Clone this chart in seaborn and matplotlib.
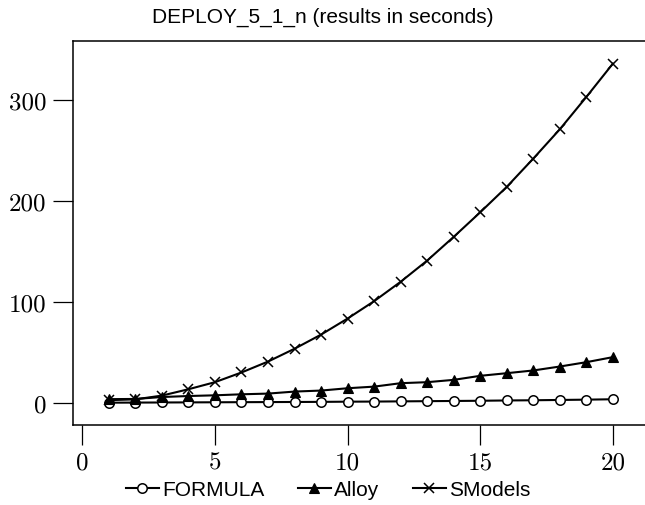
import matplotlib
matplotlib.use("Agg")
import matplotlib.pyplot as plt
import seaborn as sns
import pandas as pd

n_values = list(range(1, 21))

formula_times = [0.3, 0.4, 0.5, 0.6, 0.7, 0.8, 0.9, 1.0, 1.1, 1.3,
                 1.4, 1.6, 1.8, 2.0, 2.2, 2.5, 2.7, 3.0, 3.3, 3.7]
alloy_times = [3.8, 4.0, 5.9, 6.9, 7.6, 8.6, 9.3, 11.3, 12.3, 14.6,
               16.2, 19.6, 20.6, 22.9, 26.9, 29.5, 32.2, 36.1, 40.4, 45.4]
smodels_times = [2.8, 3.6, 7.3, 13.6, 20.6, 30.2, 41.0, 53.7, 67.7, 83.6,
                 100.8, 120.0, 141.0, 164.5, 188.8, 214.0, 242.0, 271.0, 303.0, 336.0]

series_names = ["FORMULA", "Alloy", "SModels"]
x_ticks = [0, 5, 10, 15, 20]
y_ticks = [0, 100, 200, 300]

fig = plt.figure(figsize=(6.45, 5.06), dpi=100)

# axes box: left edge at 73 px, right edge runs off the figure
x_lo, x_hi = -0.35, 21.22
ax = fig.add_axes([
    73 / 645,
    (506 - 425.5) / 506,
    (x_hi - x_lo) * 26.53 / 645,
    (425.5 - 42.3) / 506
])

df = pd.DataFrame({
    "n": n_values * 3,
    "time": formula_times + alloy_times + smodels_times,
    "tool": [s for s in series_names for _ in n_values]
})

styles = {
    "FORMULA": dict(marker="o", markersize=6.8, markerfacecolor="white",
                    markeredgecolor="black", markeredgewidth=1.1),
    "Alloy": dict(marker="^", markersize=7.5, markerfacecolor="black",
                  markeredgecolor="black", markeredgewidth=0.8),
    "SModels": dict(marker="x", markersize=7.5, markeredgecolor="black",
                    markeredgewidth=1.1),
}

for name in series_names:
    sns.lineplot(
        data=df[df["tool"] == name],
        x="n",
        y="time",
        color="black",
        linewidth=1.5,
        errorbar=None,
        label=name,
        ax=ax,
        **styles[name]
    )

if ax.get_legend() is not None:
    ax.get_legend().remove()

ax.set_xlim(x_lo, x_hi)
ax.set_ylim(-21.3, 358.1)
ax.set_xlabel("")
ax.set_ylabel("")

ax.set_xticks(x_ticks)
ax.set_yticks(y_ticks)
ax.set_xticklabels([str(t) for t in x_ticks], fontfamily="cmr10", fontsize=18)
ax.set_yticklabels([str(t) for t in y_ticks], fontfamily="cmr10", fontsize=18)
ax.tick_params(axis="both", direction="out", length=14.4, width=0.9,
               color="black", pad=5)

for spine in ax.spines.values():
    spine.set_linewidth(1.1)
    spine.set_color("black")
ax.spines["right"].set_visible(False)

fig.text(
    0.5, 1 - 17 / 506,
    "DEPLOY_5_1_n (results in seconds)",
    ha="center", va="center",
    fontsize=15, fontfamily="Liberation Sans"
)

handles, labels = ax.get_legend_handles_labels()
fig.legend(
    handles, labels,
    loc="center",
    bbox_to_anchor=(328 / 645, 1 - 491 / 506),
    ncol=3,
    frameon=False,
    prop={"family": "Liberation Sans", "size": 15},
    handlelength=1.6,
    handletextpad=0.15,
    columnspacing=1.6,
    borderaxespad=0
)

fig.savefig("out.png", dpi=100)
plt.close(fig)
